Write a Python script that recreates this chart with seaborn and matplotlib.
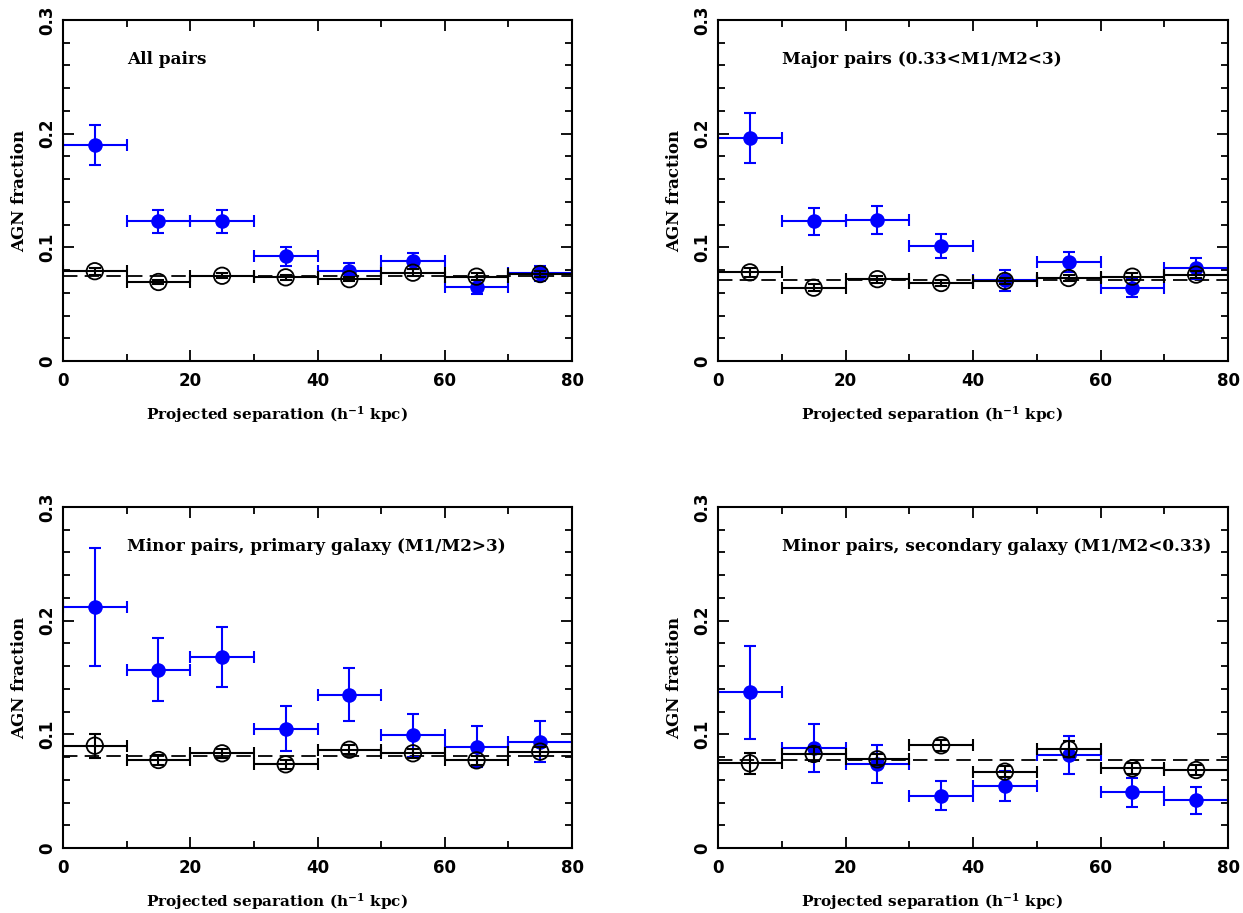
import matplotlib
matplotlib.use("Agg")
import matplotlib.pyplot as plt
import seaborn as sns
import numpy as np
from matplotlib.ticker import MultipleLocator

# ---------------- data ----------------
sep_centers = [5, 15, 25, 35, 45, 55, 65, 75]
bin_halfwidth = [5, 5, 5, 5, 5, 5, 5, 5]

titles = ["All pairs",
          "Major pairs (0.33<M1/M2<3)",
          "Minor pairs, primary galaxy (M1/M2>3)",
          "Minor pairs, secondary galaxy (M1/M2<0.33)"]

# pairs (blue filled)
pairs_all = [0.190, 0.123, 0.123, 0.092, 0.079, 0.088, 0.065, 0.077]
pairs_all_err = [0.018, 0.010, 0.010, 0.008, 0.007, 0.007, 0.006, 0.007]
pairs_major = [0.196, 0.123, 0.124, 0.101, 0.071, 0.087, 0.064, 0.0815]
pairs_major_err = [0.022, 0.012, 0.012, 0.0105, 0.009, 0.009, 0.008, 0.009]
pairs_minor_pri = [0.212, 0.157, 0.168, 0.105, 0.135, 0.099, 0.089, 0.0935]
pairs_minor_pri_err = [0.052, 0.028, 0.026, 0.020, 0.023, 0.019, 0.018, 0.018]
pairs_minor_sec = [0.137, 0.088, 0.074, 0.046, 0.0545, 0.082, 0.049, 0.042]
pairs_minor_sec_err = [0.041, 0.021, 0.017, 0.0126, 0.013, 0.0166, 0.013, 0.012]

# control sample (black open)
ctrl_all = [0.079, 0.0695, 0.075, 0.0736, 0.072, 0.0777, 0.0742, 0.0765]
ctrl_all_err = [0.003, 0.002, 0.002, 0.002, 0.002, 0.003, 0.003, 0.003]
ctrl_major = [0.078, 0.0645, 0.072, 0.0686, 0.0704, 0.073, 0.0742, 0.076]
ctrl_major_err = [0.004, 0.003, 0.003, 0.003, 0.003, 0.003, 0.003, 0.003]
ctrl_minor_pri = [0.090, 0.0774, 0.0833, 0.0736, 0.0865, 0.0833, 0.0771, 0.0848]
ctrl_minor_pri_err = [0.0107, 0.004, 0.004, 0.004, 0.004, 0.004, 0.004, 0.004]
ctrl_minor_sec = [0.0745, 0.0827, 0.078, 0.0903, 0.0672, 0.0868, 0.0701, 0.0686]
ctrl_minor_sec_err = [0.0095, 0.006, 0.005, 0.005, 0.005, 0.007, 0.005, 0.004]

# overall control fraction (dashed)
ctrl_mean = [0.0745, 0.0716, 0.0812, 0.0774]

pairs = [pairs_all, pairs_major, pairs_minor_pri, pairs_minor_sec]
pairs_err = [pairs_all_err, pairs_major_err, pairs_minor_pri_err, pairs_minor_sec_err]
ctrl = [ctrl_all, ctrl_major, ctrl_minor_pri, ctrl_minor_sec]
ctrl_err = [ctrl_all_err, ctrl_major_err, ctrl_minor_pri_err, ctrl_minor_sec_err]

# ---------------- style ----------------
sns.set_theme(style="ticks")
plt.rcParams["font.family"] = ["DejaVu Serif"]
plt.rcParams["mathtext.default"] = "regular"
plt.rcParams["axes.linewidth"] = 1.5
plt.rcParams["text.color"] = "black"
plt.rcParams["axes.labelcolor"] = "black"

W, H = 1243, 913
fig = plt.figure(figsize=(W / 100, H / 100), dpi=100)
fig.patch.set_facecolor("white")

# axes boxes in pixels: left, top, right, bottom
boxes = [(63, 20, 572, 361), (718, 20, 1228, 361),
         (63, 507, 572, 848), (718, 507, 1228, 848)]

BLUE = "#0000ff"
for i, (l, t, r, b) in enumerate(boxes):
    ax = fig.add_axes([l / W, 1 - b / H, (r - l) / W, (b - t) / H])
    ax.set_facecolor("white")
    ax.set_xlim(0, 80)
    ax.set_ylim(0, 0.3)

    ax.axhline(ctrl_mean[i], color="black", lw=1.3, ls=(0, (8, 4)), zorder=1)

    # pairs
    ax.errorbar(sep_centers, pairs[i], xerr=bin_halfwidth, yerr=pairs_err[i],
                fmt="none", ecolor=BLUE, elinewidth=1.5, capsize=4.5,
                capthick=1.5, zorder=2, clip_on=True)
    sns.scatterplot(x=sep_centers, y=pairs[i], ax=ax, color=BLUE, s=110,
                    edgecolor=BLUE, linewidth=0, zorder=3, legend=False)

    # control
    ax.errorbar(sep_centers, ctrl[i], xerr=bin_halfwidth, yerr=ctrl_err[i],
                fmt="none", ecolor="black", elinewidth=1.5, capsize=4.5,
                capthick=1.5, zorder=4)
    sns.scatterplot(x=sep_centers, y=ctrl[i], ax=ax, facecolor="none",
                    edgecolor="black", s=140, linewidth=1.3, zorder=5,
                    legend=False)

    ax.text(10, 0.265, titles[i], fontsize=12.2, fontweight="bold",
            family="DejaVu Serif", va="center", ha="left", color="black")

    ax.xaxis.set_major_locator(MultipleLocator(20))
    ax.xaxis.set_minor_locator(MultipleLocator(10))
    ax.yaxis.set_major_locator(MultipleLocator(0.1))
    ax.yaxis.set_minor_locator(MultipleLocator(0.02))
    ax.tick_params(which="both", direction="in", top=True, right=True,
                   color="black", width=1.3)
    ax.tick_params(which="major", length=8)
    ax.tick_params(which="minor", length=5)
    ax.tick_params(axis="x", which="major", pad=8)
    ax.tick_params(axis="y", which="major", pad=5)
    ax.set_xticks([0, 20, 40, 60, 80])
    ax.set_xticklabels(["0", "20", "40", "60", "80"])
    ax.set_yticks([0, 0.1, 0.2, 0.3])
    ax.set_yticklabels(["0", "0.1", "0.2", "0.3"])
    for lab in ax.get_xticklabels() + ax.get_yticklabels():
        lab.set_fontfamily("DejaVu Sans")
        lab.set_fontweight("bold")
        lab.set_fontsize(12)
        lab.set_color("black")
    for lab in ax.get_yticklabels():
        lab.set_rotation(90)
        lab.set_va("center")
    for sp in ax.spines.values():
        sp.set_color("black")
        sp.set_linewidth(1.5)

    ax.set_xlabel("Projected separation (h$^{-1}$ kpc)", fontsize=11,
                  fontweight="bold", family="DejaVu Serif", color="black")
    ax.xaxis.set_label_coords((277 - 63) / 509, -43 / 341)
    ax.set_ylabel("AGN fraction", fontsize=12, fontweight="bold",
                  family="DejaVu Serif", labelpad=7, color="black")

fig.savefig("out.png", dpi=100, facecolor="white")
